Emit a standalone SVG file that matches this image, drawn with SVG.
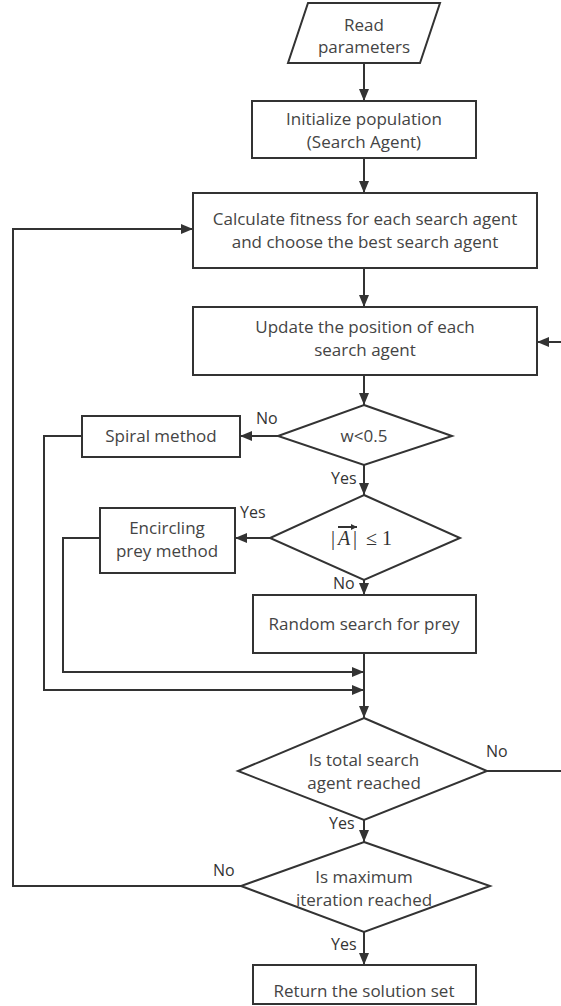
<svg xmlns="http://www.w3.org/2000/svg" width="561" height="1006" viewBox="0 0 561 1006">
  <style>
    .box { fill: #ffffff; stroke: #333333; stroke-width: 2; }
    .edge { fill: none; stroke: #333333; stroke-width: 2; }
    .t { font-family: "Open Sans", "Liberation Sans", sans-serif; font-size: 17px; fill: #444444; text-anchor: middle; }
    .lbl { font-family: "Open Sans", "Liberation Sans", sans-serif; font-size: 16px; fill: #333333; }
    .math { font-family: "Liberation Serif", serif; font-size: 20px; fill: #333333; }
  </style>
  <defs>
    <marker id="arrow" markerUnits="userSpaceOnUse" markerWidth="12" markerHeight="10" refX="12" refY="5" orient="auto">
      <path d="M0,0 L12,5 L0,10 z" fill="#333333"/>
    </marker>
    <marker id="vec" markerUnits="userSpaceOnUse" markerWidth="6" markerHeight="6" refX="6" refY="3" orient="auto">
      <path d="M0,0 L6,3 L0,6 z" fill="#333333"/>
    </marker>
  </defs>
  <rect width="561" height="1006" fill="#ffffff"/>

  <g id="connectors">
    <path class="edge" d="M364,63 V101" marker-end="url(#arrow)"/>
    <path class="edge" d="M364,158 V193" marker-end="url(#arrow)"/>
    <path class="edge" d="M364,268 V307" marker-end="url(#arrow)"/>
    <path class="edge" d="M561,342 H537" marker-end="url(#arrow)"/>
    <path class="edge" d="M364,375 V405" marker-end="url(#arrow)"/>
    <path class="edge" d="M278,436 H240" marker-end="url(#arrow)"/>
    <path class="edge" d="M364,465 V495" marker-end="url(#arrow)"/>
    <path class="edge" d="M270,538 H235" marker-end="url(#arrow)"/>
    <path class="edge" d="M364,580 V595" marker-end="url(#arrow)"/>
    <path class="edge" d="M364,653 V718" marker-end="url(#arrow)"/>
    <path class="edge" d="M82,436 H44 V690 H364" marker-end="url(#arrow)"/>
    <path class="edge" d="M100,538 H63 V672 H364" marker-end="url(#arrow)"/>
    <path class="edge" d="M487,771 H561"/>
    <path class="edge" d="M364,820 V842" marker-end="url(#arrow)"/>
    <path class="edge" d="M241,886 H13 V229 H193" marker-end="url(#arrow)"/>
    <path class="edge" d="M364,932 V965" marker-end="url(#arrow)"/>
    <text class="lbl" x="256" y="424">No</text>
    <text class="lbl" x="331" y="484">Yes</text>
    <text class="lbl" x="240" y="518">Yes</text>
    <text class="lbl" x="333" y="589">No</text>
    <text class="lbl" x="486" y="757">No</text>
    <text class="lbl" x="329" y="829">Yes</text>
    <text class="lbl" x="213" y="876">No</text>
    <text class="lbl" x="331" y="950">Yes</text>
  </g>

  <g id="read-parameters">
    <polygon class="box" points="308,3 440,3 420,63 288,63"/>
    <text class="t" x="364" y="31">Read</text>
    <text class="t" x="364" y="53">parameters</text>
  </g>
  <g id="initialize">
    <rect class="box" x="252" y="101" width="224" height="57"/>
    <text class="t" x="364" y="125">Initialize population</text>
    <text class="t" x="364" y="148">(Search Agent)</text>
  </g>
  <g id="fitness">
    <rect class="box" x="193" y="193" width="344" height="75"/>
    <text class="t" x="365" y="225">Calculate fitness for each search agent</text>
    <text class="t" x="365" y="248">and choose the best search agent</text>
  </g>
  <g id="update">
    <rect class="box" x="193" y="307" width="344" height="68"/>
    <text class="t" x="365" y="333">Update the position of each</text>
    <text class="t" x="365" y="356">search agent</text>
  </g>
  <g id="w-check">
    <polygon class="box" points="364,405 452,436 364,465 278,436"/>
    <text class="t" x="364" y="442">w&lt;0.5</text>
  </g>
  <g id="spiral">
    <rect class="box" x="82" y="416" width="158" height="41"/>
    <text class="t" x="161" y="442">Spiral method</text>
  </g>
  <g id="a-check">
    <polygon class="box" points="364,495 460,538 364,580 270,538"/>
    <text class="math" x="331" y="545">|</text>
    <text class="math" x="338" y="545" font-style="italic">A</text>
    <path class="edge" d="M338,527 H357" stroke-width="1.2" marker-end="url(#vec)"/>
    <text class="math" x="353" y="545">|</text>
    <text class="math" x="366" y="545">≤ 1</text>
  </g>
  <g id="encircling">
    <rect class="box" x="100" y="508" width="135" height="65"/>
    <text class="t" x="167" y="534">Encircling</text>
    <text class="t" x="167" y="557">prey method</text>
  </g>
  <g id="random">
    <rect class="box" x="253" y="595" width="223" height="58"/>
    <text class="t" x="364" y="630">Random search for prey</text>
  </g>
  <g id="agents-check">
    <polygon class="box" points="364,718 487,771 364,820 238,771"/>
    <text class="t" x="364" y="766">Is total search</text>
    <text class="t" x="364" y="789">agent reached</text>
  </g>
  <g id="iteration-check">
    <polygon class="box" points="364,842 490,886 364,932 241,886"/>
    <text class="t" x="364" y="883">Is maximum</text>
    <text class="t" x="364" y="906">iteration reached</text>
  </g>
  <g id="solution">
    <rect class="box" x="253" y="965" width="223" height="39"/>
    <text class="t" x="364" y="997">Return the solution set</text>
  </g>
</svg>
